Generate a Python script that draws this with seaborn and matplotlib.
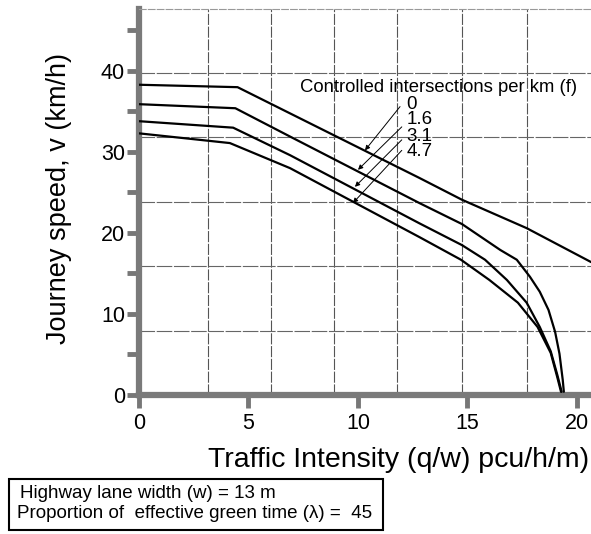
import matplotlib
matplotlib.use("Agg")
import matplotlib.pyplot as plt
import matplotlib.font_manager as fm
from matplotlib.patches import Rectangle
import seaborn as sns
import pandas as pd

# ---------------- data ----------------
f_labels = ["0", "1.6", "3.1", "4.7"]

x_f0 = [0, 4.5, 12.8, 14.75, 17.7, 20.65]
y_f0 = [38.3, 38.0, 26.8, 24.1, 20.6, 16.4]

x_f16 = [0, 4.4, 6.9, 12.8, 14.75, 16.5, 17.25, 17.85, 18.3, 18.7, 19.0, 19.2, 19.35, 19.4]
y_f16 = [35.9, 35.4, 31.9, 23.7, 21.1, 17.9, 16.7, 14.6, 12.75, 10.5, 7.8, 5.1, 1.85, 0.4]

x_f31 = [0, 4.3, 6.9, 12.8, 14.75, 15.8, 16.8, 17.7, 18.3, 18.8, 19.1, 19.3]
y_f31 = [33.8, 33.0, 29.6, 21.2, 18.5, 16.7, 14.2, 11.4, 8.4, 5.4, 2.5, 0.4]

x_f47 = [0, 4.15, 6.9, 12.8, 14.7, 16.0, 17.3, 18.2, 18.8, 19.1, 19.27]
y_f47 = [32.3, 31.1, 28.0, 19.5, 16.7, 14.2, 11.4, 8.4, 5.2, 2.2, 0.4]

# arrows from labels to curves
arrow_tail_x = [11.92, 12.0, 12.0, 12.0]
arrow_tail_y = [35.6, 33.1, 31.5, 30.2]
arrow_head_x = [10.32, 10.0, 9.86, 9.77]
arrow_head_y = [30.2, 27.8, 25.7, 23.7]
label_y = [35.9, 34.0, 31.9, 30.0]

y_major = [0, 10, 20, 30, 40]
y_minor = [5, 15, 25, 35, 45]
x_major = [0, 5, 10, 15, 20]
grid_x = [3.15, 6.05, 8.9, 11.8, 14.75, 17.7]
grid_y = [7.9, 15.9, 23.8, 31.8, 39.7]

title_text = "Controlled intersections per km (f)"
xlabel_text = "Traffic Intensity (q/w) pcu/h/m)"
ylabel_text = "Journey speed, v (km/h)"
box_lines = ["Highway lane width (w) = 13 m",
             "Proportion of  effective green time (λ) =  45"]

# ---------------- style ----------------
sns.set_style("white")
avail = {f.name for f in fm.fontManager.ttflist}
base_font = "Liberation Sans" if "Liberation Sans" in avail else "DejaVu Sans"
plt.rcParams["font.family"] = [base_font, "DejaVu Sans"]
plt.rcParams["text.color"] = "black"
plt.rcParams["axes.labelcolor"] = "black"

fig = plt.figure(figsize=(5.91, 5.34), dpi=100)
W, H = 591, 534
ax = fig.add_axes([139 / W, 1 - 395 / H, (591 - 139) / W, (395 - 9) / H])

rows = []
for lab, xs, ys in zip(f_labels, [x_f0, x_f16, x_f31, x_f47], [y_f0, y_f16, y_f31, y_f47]):
    for xv, yv in zip(xs, ys):
        rows.append({"f": lab, "q": xv, "v": yv})
df = pd.DataFrame(rows)

sns.lineplot(data=df, x="q", y="v", units="f", estimator=None, sort=False,
             color="black", lw=1.6, ax=ax, zorder=3, legend=False)

ax.set_xlim(0, 20.64)
ax.set_ylim(0, 47.65)

# grid
for gx in grid_x:
    ax.axvline(gx, color="#555555", lw=0.8, ls=(0, (10, 1.5)), zorder=1)
for gy in grid_y:
    ax.axhline(gy, color="#666666", lw=0.8, ls=(0, (14, 1.5)), zorder=1)

# spines
for s in ["left", "bottom"]:
    ax.spines[s].set_linewidth(4.5)
    ax.spines[s].set_color("#7a7a7a")
ax.spines["right"].set_visible(False)
ax.spines["top"].set_color("#999999")
ax.spines["top"].set_linewidth(0.8)
ax.spines["top"].set_linestyle((0, (6, 2)))

ax.set_yticks(y_major)
ax.set_yticks(y_minor, minor=True)
ax.set_xticks(x_major)
ax.set_xticklabels([str(v) for v in x_major])
ax.set_yticklabels([str(v) for v in y_major])
ax.tick_params(axis="y", which="both", left=True, direction="out", length=9, width=3.5,
               color="#777777", labelcolor="black", labelsize=15.5, pad=1)
ax.tick_params(axis="x", which="major", bottom=True, direction="out", length=9, width=3.5,
               color="#777777", labelcolor="black", labelsize=15.5, pad=4)
ax.tick_params(axis="x", which="minor", bottom=False)

ax.set_xlabel(xlabel_text, fontsize=20.5)
ax.set_ylabel(ylabel_text, fontsize=19.5)
ax.xaxis.set_label_coords((398.5 - 139) / 452, -0.135)
ax.yaxis.set_label_coords(-(139 - 72) / 452, (395 - 198) / 386)

# annotations
ax.text(7.35, 38.0, title_text, fontsize=13.3, va="center", ha="left", zorder=5)
for lab, ly in zip(f_labels, label_y):
    ax.text(12.2, ly, lab, fontsize=13.5, va="center", ha="left", zorder=5)
for tx, ty, hx, hy in zip(arrow_tail_x, arrow_tail_y, arrow_head_x, arrow_head_y):
    ax.annotate("", xy=(hx, hy), xytext=(tx, ty),
                arrowprops=dict(arrowstyle="-|>", color="black", lw=0.7,
                                mutation_scale=7, shrinkA=0, shrinkB=0),
                zorder=4)

# bottom info box
fig.patches.append(Rectangle((9 / W, 1 - 530 / H), (383 - 9) / W, (530 - 479) / H,
                             transform=fig.transFigure, fill=False,
                             edgecolor="black", lw=1.5))
fig.text(20 / W, 1 - 494 / H, box_lines[0], fontsize=13.5, va="center", ha="left")
fig.text(17 / W, 1 - 513 / H, box_lines[1], fontsize=13.5, va="center", ha="left")

fig.savefig("out.png", dpi=100)
